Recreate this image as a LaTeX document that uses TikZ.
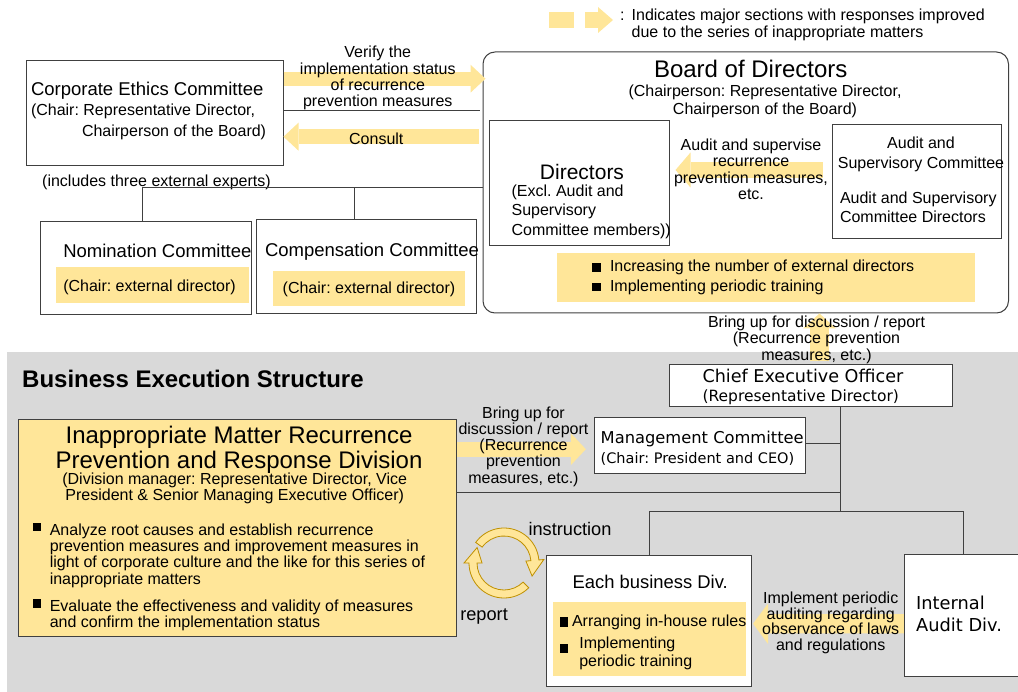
\documentclass[tikz,border=0pt]{standalone}
\usepackage{fontspec}
\setmainfont{Liberation Sans}
\newfontfamily\tahomalike{DejaVu Sans}
\usetikzlibrary{arrows.meta, positioning, calc}

\definecolor{hlyellow}{RGB}{255,230,153}
\definecolor{bggray}{RGB}{217,217,217}
\definecolor{boxline}{RGB}{64,64,64}
\definecolor{ringgold}{RGB}{191,144,0}

\newcommand{\txtsize}[2]{\fontsize{#1pt}{#2pt}\selectfont}
\newcommand{\bsq}{\rule{9pt}{8.5pt}}

\begin{document}
\frenchspacing
\begin{tikzpicture}[
    x=1pt, y=-1pt,
    box/.style={rectangle, draw=boxline, line width=1pt, fill=white, inner sep=0pt},
    band/.style={rectangle, fill=hlyellow, inner sep=0pt},
    txt/.style={inner sep=0pt, outer sep=0pt, font=\txtsize{16}{16.3}},
    link/.style={draw=boxline, line width=1pt},
    fatarrow/.style 2 args={draw=hlyellow, line width=#1, -{Triangle[length=15pt, width=#2, line width=0pt]}},
    ring/.style={fill=hlyellow, draw=ringgold, line width=0.8pt}
]
    \useasboundingbox (0,0) rectangle (1018,692);

    % legend
    \node[band, minimum width=25pt, minimum height=16pt] (legbox) at (561,20) {};
    \coordinate (legtail) at (585,20);
    \coordinate (legtip) at (613,20);
    \draw[fatarrow={16pt}{26pt}] (legtail) -- (legtip);
    \node[txt, anchor=base west] (legcolon) at (620,21) {:};
    \node[txt, anchor=north west, align=left, font=\txtsize{16}{16.5}] (legtext) at (631.7,9.4) {Indicates major sections with responses improved\\due to the series of inappropriate matters};

    % corporate ethics committee
    \node[box, minimum width=257pt, minimum height=105pt] (ethics) at (154.5,113.5) {};
    \node[txt, anchor=north west, align=left, font=\txtsize{16}{20.3}] (ethicstxt) at ([xshift=5.5pt, yshift=-21.5pt]ethics.north west) {{\txtsize{18.5}{20.3}Corporate Ethics Committee}\\(Chair: Representative Director,\\\hspace*{51pt}Chairperson of the Board)};
    \node[txt, anchor=base west] (experts) at ([xshift=16.7pt, yshift=-19.7pt]ethics.south west) {(includes three external experts)};

    % board of directors
    \node[box, rounded corners=12pt, minimum width=525.5pt, minimum height=261pt] (board) at (745.75,182.5) {};
    \node[txt, anchor=base, font=\txtsize{24}{26}] (boardtitle) at (750.7,78) {Board of Directors};
    \node[txt, anchor=north, align=center, font=\txtsize{16}{18.3}] (boardchair) at (765,85.1) {(Chairperson: Representative Director,\\Chairperson of the Board)};

    \node[box, minimum width=179.8pt, minimum height=125pt] (directors) at (579.5,183.2) {};
    \node[txt, anchor=base, font=\txtsize{21}{23}] (dirtitle) at (582,180) {Directors};
    \node[txt, anchor=north west, align=left, font=\txtsize{16}{19.2}] (dirnote) at (511.6,185.1) {(Excl. Audit and\\Supervisory\\Committee members))};

    \node[box, minimum width=168.8pt, minimum height=113.6pt] (auditcom) at (917.2,181.5) {};
    \node[txt, anchor=north, align=center, font=\txtsize{16}{19.3}] (audittitle) at (921,137.4) {Audit and\\Supervisory Committee};
    \node[txt, anchor=north west, align=left, font=\txtsize{16}{18.7}] (auditmembers) at (840,192.4) {Audit and Supervisory\\Committee Directors};

    \node[band, minimum width=418pt, minimum height=49pt] (boardband) at (766,277.5) {};
    \node[txt, anchor=base west, font=\txtsize{16}{19.5}] (boardpoints) at (591.5,272) {\begin{tabular}[t]{@{}l@{\hspace{9.5pt}}l@{}}
        \bsq & Increasing the number of external directors\\
        \bsq & Implementing periodic training
    \end{tabular}};

    % nomination and compensation committees
    \node[box, minimum width=211pt, minimum height=93.3pt] (nom) at (146.2,268.35) {};
    \node[band, minimum width=193pt, minimum height=35.4pt] (nomband) at (152.5,285) {};
    \node[txt, anchor=base west, font=\txtsize{18.5}{20}] (nomtitle) at (63.3,257.3) {Nomination Committee};
    \node[txt, anchor=base west] (nomchair) at (63.3,291.7) {(Chair: external director)};

    \node[box, minimum width=219.7pt, minimum height=93.3pt] (comp) at (366.15,266.65) {};
    \node[band, minimum width=191.7pt, minimum height=34.7pt] (compband) at (369.15,288.35) {};
    \node[txt, anchor=base west, font=\txtsize{18.5}{20}] (comptitle) at (265,257) {Compensation Committee};
    \node[txt, anchor=base west] (compchair) at (282.7,293.3) {(Chair: external director)};

    % links from the board
    \coordinate (bus) at ([yshift=-20.7pt]ethics.south);
    \coordinate (compdrop) at ([xshift=-11.85pt]comp.north);
    \coordinate (ethicslink) at ([yshift=2.5pt]ethics.east);
    \draw[link] (board.west |- bus) -| ([xshift=-3.9pt]nom.north);
    \draw[link] (compdrop) -- (compdrop |- bus);
    \draw[link] (ethicslink) -- ([xshift=-3pt]ethicslink -| board.west);

    \draw[fatarrow={14pt}{28pt}] ([yshift=34.8pt]ethics.east) -- node[txt, anchor=north, align=center, xshift=-6.7pt, yshift=32.3pt] (verifylbl) {Verify the\\implementation status\\of recurrence\\prevention measures} ([xshift=3pt, yshift=103.8pt]board.west);
    \draw[fatarrow={14.7pt}{28pt}] ([xshift=-4pt, yshift=45.8pt]board.west) -- node[txt, anchor=base, xshift=-4.7pt, yshift=-7.6pt] (consultlbl) {Consult} ([yshift=-23.2pt]ethics.east);
    \draw[fatarrow={16.7pt}{35pt}] ([xshift=-9.8pt, yshift=11.5pt]auditcom.west) -- node[txt, anchor=north, align=center, xshift=2pt, yshift=30.9pt] (auditlbl) {Audit and supervise\\recurrence\\prevention measures,\\etc.} ([xshift=5.6pt, yshift=13.2pt]directors.east);

    % business execution structure
    \fill[bggray] (7,351.7) rectangle (1018,692);
    \node[anchor=base west, inner sep=0pt, font=\bfseries\txtsize{24}{25}] (exectitle) at (22,388) {Business Execution Structure};

    \node[box, minimum width=283pt, minimum height=41.7pt] (ceo) at (810.8,385.85) {};
    \node[txt, anchor=north west, align=left, font=\tahomalike\txtsize{15.5}{19.1}] (ceotxt) at (702.5,368.8) {{\txtsize{17.6}{19.1}Chief Executive Officer}\\(Representative Director)};
    \draw[fatarrow={19pt}{33pt}] ([xshift=8.7pt, yshift=3.3pt]ceo.north) -- node[txt, anchor=north, align=center, font=\txtsize{16}{16.4}, xshift=-3pt, yshift=21.5pt] (escalatelbl) {Bring up for discussion / report\\(Recurrence prevention\\measures, etc.)} ([xshift=73.75pt]board.south);

    \node[box, minimum width=210.6pt, minimum height=56pt] (mgmt) at (700,445.3) {};
    \node[txt, anchor=north west, align=left, font=\tahomalike\txtsize{14.5}{20.7}] (mgmttxt) at (600.7,430.9) {{\txtsize{16.3}{20.7}Management Committee}\\(Chair: President and CEO)};

    \node[box, fill=hlyellow, minimum width=438.2pt, minimum height=217.4pt] (divbox) at (237.5,528) {};
    \node[txt, anchor=north, align=center, font=\txtsize{24}{25}] (divtitle) at (239,425.8) {Inappropriate Matter Recurrence\\Prevention and Response Division};
    \node[txt, anchor=north, align=center, font=\txtsize{16}{15.7}] (divhead) at (234.7,473.4) {(Division manager: Representative Director, Vice\\President \& Senior Managing Executive Officer)};
    \node[txt, anchor=base west] (divtasks) at (32.5,535) {\begin{tabular}[t]{@{}l@{\hspace{8.3pt}}l@{}}
        \raisebox{3.5pt}{\bsq} & Analyze root causes and establish recurrence\\
         & prevention measures and improvement measures in\\
         & light of corporate culture and the like for this series of\\
         & inappropriate matters\\[10pt]
        \raisebox{3.5pt}{\bsq} & Evaluate the effectiveness and validity of measures\\
         & and confirm the implementation status
    \end{tabular}};
    \draw[fatarrow={15pt}{32pt}] ([yshift=78.8pt]divbox.east) -- node[txt, anchor=north, align=center, font=\txtsize{16}{16.2}, xshift=2pt, yshift=42.5pt] (proposelbl) {Bring up for\\discussion / report\\(Recurrence\\prevention\\measures, etc.)} ([xshift=-8.4pt, yshift=-3.9pt]mgmt.west);

    \node[box, minimum width=204.6pt, minimum height=131.7pt] (biz) at (649.2,620.85) {};
    \node[band, minimum width=192.8pt, minimum height=73.4pt] (bizband) at (649.6,639) {};
    \node[txt, anchor=base west, font=\txtsize{18.4}{20}] (biztitle) at (572.7,588.3) {Each business Div.};
    \node[txt, anchor=base west] (bizrules) at (559.8,626.7) {\rule{8.5pt}{9.3pt}\hspace{3.7pt}Arranging in-house rules};
    \node[txt, anchor=base west, font=\txtsize{16}{18}] (biztraining) at (559.8,648) {\rule[-5.3pt]{8.5pt}{9.3pt}\hspace{11pt}\begin{tabular}[t]{@{}l@{}}Implementing\\periodic training\end{tabular}};

    \node[box, minimum width=118pt, minimum height=122.4pt] (iaudit) at (963.4,615.5) {};
    \node[txt, anchor=north west, align=left, font=\tahomalike\txtsize{17.8}{22.4}] (iaudittxt) at (916.2,595.8) {Internal\\Audit Div.};
    \draw[fatarrow={19.3pt}{40.7pt}] ([yshift=-8.2pt]iaudit.west) -- node[txt, anchor=north, align=center, font=\txtsize{16}{15.8}, xshift=2.2pt, yshift=32pt] (auditinglbl) {Implement periodic\\auditing regarding\\observance of laws\\and regulations} ([xshift=1.1pt, yshift=-2.85pt]biz.east);

    % reporting lines under the CEO
    \coordinate (trunktop) at ([xshift=29.2pt]ceo.south);
    \coordinate (forkline) at ([yshift=43.3pt]biz.north);
    \coordinate (mgmtlink) at ([yshift=2pt]mgmt.east);
    \coordinate (divlink) at ([yshift=35.3pt]divbox.east);
    \draw[link] (trunktop) -- (trunktop |- forkline);
    \draw[link] (mgmtlink) -- (mgmtlink -| trunktop);
    \draw[link] (divlink) -- (divlink -| trunktop);
    \draw[link] (biz.north) -- (forkline) -| (iaudit.north);

    % instruction / report cycle
    \coordinate (cyc) at (504,563);
    \begin{scope}[shift={(cyc)}]
        \filldraw[ring] (144:35pt) arc[start angle=144, end angle=5, radius=35pt] -- (5:40pt) -- (-25:31pt) -- (5:22pt) -- (5:27pt) arc[start angle=5, end angle=144, radius=27pt] -- cycle;
        \filldraw[ring] (-45:35pt) arc[start angle=-45, end angle=-180, radius=35pt] -- (-180:40pt) -- (-210:31pt) -- (-180:22pt) -- (-180:27pt) arc[start angle=-180, end angle=-45, radius=27pt] -- cycle;
    \end{scope}
    \node[txt, anchor=base west, font=\txtsize{18.2}{20}] (instrlbl) at (528.5,535) {instruction};
    \node[txt, anchor=base west, font=\txtsize{18.2}{20}] (reportlbl) at (460.3,620) {report};

\end{tikzpicture}
\end{document}
